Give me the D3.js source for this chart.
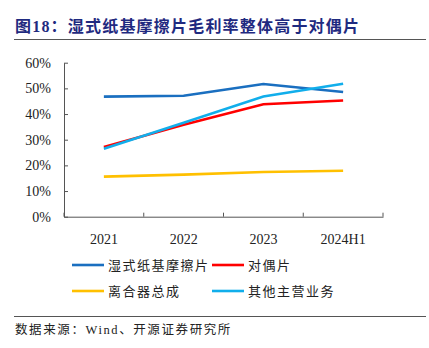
<!DOCTYPE html>
<html>
<head>
<meta charset="utf-8">
<script src="https://cdn.jsdelivr.net/npm/d3@7"></script>
<style>
  body { margin: 0; background: #fff; }
  svg { display: block; }
</style>
</head>
<body>
<div id="chart-area"></div>
<script>
const years = ['2021', '2022', '2023', '2024H1'];
const seriesNames = ['湿式纸基摩擦片', '对偶片', '离合器总成', '其他主营业务'];
const wetPaper = [46.8, 47.1, 51.7, 48.6];
const dualPlate = [27.2, 35.8, 43.8, 45.3];
const clutch = [15.6, 16.4, 17.4, 17.9];
const otherBiz = [26.5, 36.6, 46.8, 51.8];
const seriesColors = ['#1A6FC0', '#FF0000', '#FFC000', '#11AEEB'];
const yTicks = [0, 10, 20, 30, 40, 50, 60];

const width = 429, height = 348;
const margin = { top: 62.7, right: 46, bottom: 131.3, left: 64 };
const innerW = width - margin.left - margin.right;
const innerH = height - margin.top - margin.bottom;

const cjk = '"Liberation Serif", "Noto Sans CJK SC", serif';

const svg = d3.select('#chart-area')
  .append('svg')
    .attr('width', width)
    .attr('height', height);

// title + rules
svg.append('text')
  .attr('x', 15)
  .attr('y', 32)
  .attr('fill', '#1F2A80')
  .attr('font-family', cjk)
  .attr('font-weight', 'bold')
  .attr('font-size', 16)
  .attr('letter-spacing', 1.2)
  .text('图18：湿式纸基摩擦片毛利率整体高于对偶片');

svg.append('line')
  .attr('x1', 14).attr('x2', 426)
  .attr('y1', 39.5).attr('y2', 39.5)
  .attr('stroke', '#555').attr('stroke-width', 1.2);

svg.append('line')
  .attr('x1', 14).attr('x2', 426)
  .attr('y1', 316.5).attr('y2', 316.5)
  .attr('stroke', '#555').attr('stroke-width', 1.2);

svg.append('text')
  .attr('x', 15)
  .attr('y', 334)
  .attr('fill', '#222')
  .attr('font-family', cjk)
  .attr('font-size', 12.5)
  .attr('letter-spacing', 1.6)
  .text('数据来源：Wind、开源证券研究所');

const g = svg.append('g')
  .attr('transform', `translate(${margin.left},${margin.top})`);

// SCALES & AXES
const xScale = d3.scaleBand()
  .domain(years)
  .range([0, innerW]);

const yScale = d3.scaleLinear()
  .domain([0, 60])
  .range([innerH, 0]);

const yAxisCall = d3.axisLeft(yScale)
  .tickValues(yTicks)
  .tickFormat(d => d + '%')
  .tickSizeInner(-4)
  .tickSizeOuter(0);

const yAxisGroup = g.append('g')
  .call(yAxisCall);
yAxisGroup.select('.domain').attr('stroke', '#555');
yAxisGroup.selectAll('line').attr('stroke', '#555');
yAxisGroup.selectAll('text')
  .attr('x', -13)
  .attr('fill', '#222')
  .attr('font-family', '"Liberation Serif", serif')
  .attr('font-size', 14);

const xAxisGroup = g.append('g')
  .attr('transform', `translate(0,${innerH})`)
  .call(d3.axisBottom(xScale).tickSize(0).tickSizeOuter(0));
xAxisGroup.select('.domain').attr('stroke', '#555');
xAxisGroup.selectAll('text')
  .attr('y', 17)
  .attr('fill', '#222')
  .attr('font-family', '"Liberation Serif", serif')
  .attr('font-size', 14);

// inward ticks on category boundaries
const bounds = [0].concat(years.map(y => xScale(y) + xScale.bandwidth()));
g.selectAll('.xtick')
  .data(bounds)
  .enter().append('line')
    .attr('class', 'xtick')
    .attr('x1', d => d).attr('x2', d => d)
    .attr('y1', innerH).attr('y2', innerH - 4)
    .attr('stroke', '#555');

// LINES
const allSeries = [wetPaper, dualPlate, clutch, otherBiz];
const line = d3.line()
  .x((d, i) => xScale(years[i]) + xScale.bandwidth() / 2)
  .y(d => yScale(d));

allSeries.forEach((vals, i) => {
  g.append('path')
    .datum(vals)
    .attr('fill', 'none')
    .attr('stroke', seriesColors[i])
    .attr('stroke-width', 2.6)
    .attr('d', line);
});

// LEGEND
const legendPos = [[72, 265], [212, 265], [72, 291], [212, 291]];
seriesNames.forEach((name, i) => {
  const row = svg.append('g')
    .attr('transform', `translate(${legendPos[i][0]},${legendPos[i][1]})`);
  row.append('line')
    .attr('x1', 0).attr('x2', 32)
    .attr('stroke', seriesColors[i])
    .attr('stroke-width', 2.6);
  row.append('text')
    .attr('x', 36)
    .attr('y', 5)
    .attr('fill', '#222')
    .attr('font-family', cjk)
    .attr('font-size', 13)
    .attr('letter-spacing', 1.5)
    .text(name);
});
</script>
</body>
</html>
